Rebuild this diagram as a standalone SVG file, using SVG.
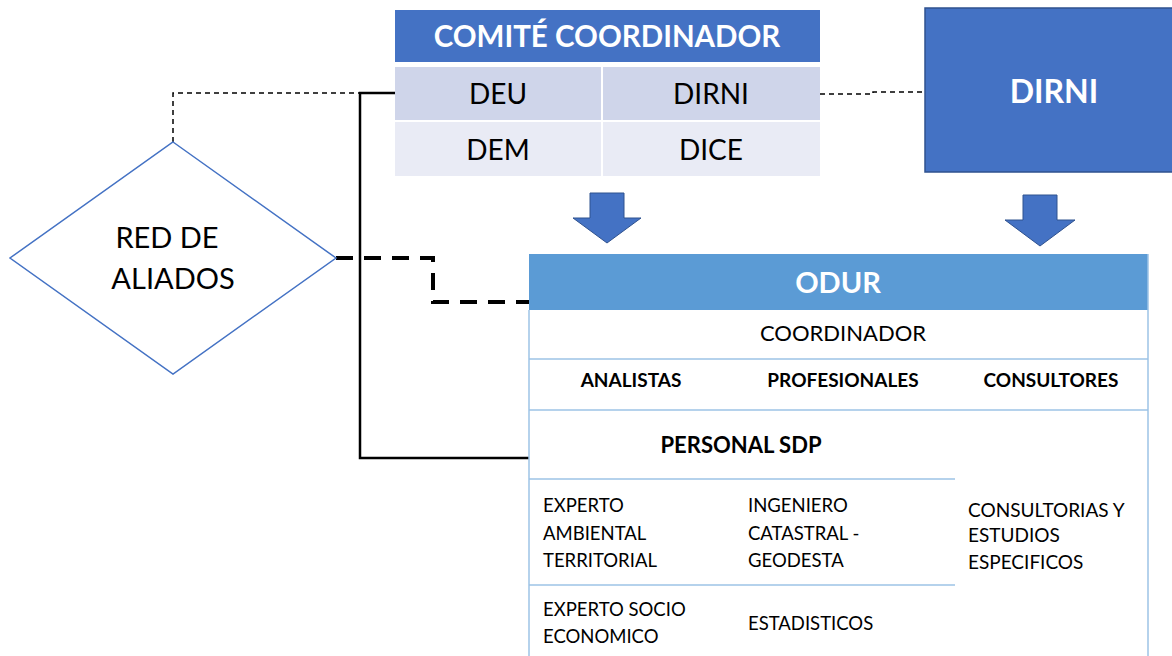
<svg xmlns="http://www.w3.org/2000/svg" width="1172" height="656" viewBox="0 0 1172 656">
<style>
text{font-family:Lato,"Liberation Sans",sans-serif;fill:#000}
.w{fill:#fff;font-weight:bold}
.b{font-weight:bold}
.c{text-anchor:middle}
.grid{stroke:#9DC3E6;stroke-width:1.5;fill:none}
.thin{stroke:#000;stroke-width:1.5;fill:none;stroke-dasharray:5 4}
.solid{stroke:#000;stroke-width:2.5;fill:none}
.thick{stroke:#000;stroke-width:4;fill:none;stroke-dasharray:17 11}
.arr{fill:#4472C4;stroke:#2F528F;stroke-width:1}
</style>
<rect width="1172" height="656" fill="#fff"/>
<g id="connectors">
<path class="thin" d="M173 142 V93 H360"/>
<path class="solid" d="M395 93 H360 V458 H529"/>
<path class="thick" d="M336 258 H433 V302 H529"/>
<path class="thin" d="M820 94 H873 V92 H925"/>
</g>
<g id="comite">
<rect x="395" y="10" width="425" height="52" fill="#4472C4"/>
<text class="w c" x="607" y="47" font-size="29.5">COMITÉ COORDINADOR</text>
<rect x="395" y="67" width="206" height="53" fill="#CFD5EA"/>
<rect x="603" y="67" width="217" height="53" fill="#CFD5EA"/>
<rect x="395" y="122" width="206" height="54" fill="#E9EBF5"/>
<rect x="603" y="122" width="217" height="54" fill="#E9EBF5"/>
<text class="c" x="498" y="104" font-size="28">DEU</text>
<text class="c" x="711" y="104" font-size="28">DIRNI</text>
<text class="c" x="498" y="160" font-size="28">DEM</text>
<text class="c" x="711" y="160" font-size="28">DICE</text>
</g>
<g id="dirni">
<rect x="925" y="8" width="250" height="164" fill="#4472C4" stroke="#2F528F" stroke-width="1.5"/>
<text class="w c" x="1054" y="103" font-size="32">DIRNI</text>
</g>
<g id="arrow-left">
<path class="arr" d="M590 193 H624 V218 H641 L607 243 L573 218 H590 Z"/>
</g>
<g id="arrow-right">
<path class="arr" d="M1023 195 H1057 V220 H1075 L1040 246 L1005 220 H1023 Z"/>
</g>
<g id="red-aliados">
<path d="M173 142 L336 258 L173 374 L10 258 Z" fill="#fff" stroke="#4472C4" stroke-width="1.5"/>
<text class="c" x="167" y="248" font-size="29">RED DE</text>
<text class="c" x="173" y="289" font-size="29">ALIADOS</text>
</g>
<g id="odur">
<rect x="529" y="254" width="619" height="56" fill="#5B9BD5"/>
<text class="w c" x="838" y="293" font-size="29">ODUR</text>
<path class="grid" d="M529 310 V656 M1148 254 V656 M529 359 H1148 M529 410 H1148 M529 479 H955 M529 585 H955"/>
<text class="c" x="843" y="341" font-size="22">COORDINADOR</text>
<text class="b c" x="631" y="387" font-size="19">ANALISTAS</text>
<text class="b c" x="843" y="387" font-size="19">PROFESIONALES</text>
<text class="b c" x="1051" y="387" font-size="19">CONSULTORES</text>
<text class="b c" x="741" y="453" font-size="22">PERSONAL SDP</text>
<g font-size="18.5">
<text x="543" y="512">EXPERTO</text>
<text x="543" y="540">AMBIENTAL</text>
<text x="543" y="567">TERRITORIAL</text>
<text x="748" y="512">INGENIERO</text>
<text x="748" y="540">CATASTRAL -</text>
<text x="748" y="567">GEODESTA</text>
<text x="968" y="517" font-size="19">CONSULTORIAS Y</text>
<text x="968" y="542" font-size="19">ESTUDIOS</text>
<text x="968" y="569" font-size="19">ESPECIFICOS</text>
<text x="543" y="616">EXPERTO SOCIO</text>
<text x="543" y="643">ECONOMICO</text>
<text x="748" y="630">ESTADISTICOS</text>
</g>
</g>
</svg>
